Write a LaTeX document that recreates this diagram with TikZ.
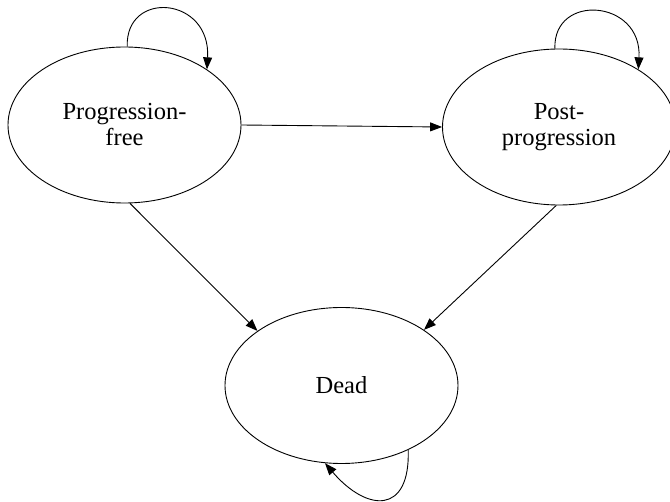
\documentclass[tikz,border=0pt]{standalone}
\usepackage{fontspec}
\setmainfont{Liberation Serif}
\usetikzlibrary{shapes.geometric,arrows.meta}
\begin{document}
\begin{tikzpicture}[x=1pt,y=-1pt,
  state/.style={ellipse,draw,line width=0.9pt,minimum width=233pt,minimum height=156pt,inner sep=0pt,align=center,font=\fontsize{24.5}{26}\selectfont},
  arr/.style={line width=0.9pt,-{Triangle[length=12pt,width=9pt]}}]
\useasboundingbox (0,0) rectangle (670,502);
\node[state] (A) at (124.5,125) {Progression-\\free};
\node[state] (B) at (559,127) {Post-\\progression};
\node[state] (C) at (341.5,385.5) {Dead};
\draw[arr] (A.east) -- (B.west);
\draw[arr] (A.-86) -- (C.147);
\draw[arr] (B.-92) -- (C.34);
\draw[arr] (A.88) .. controls +(-2,-57) and +(4,-73) .. (A.34);
\draw[arr] (B.93) .. controls +(-2,-56) and +(4,-70) .. (B.36);
\draw[arr] (C.-44) .. controls +(2,65) and +(42,49) .. (C.-102);
\end{tikzpicture}
\end{document}
